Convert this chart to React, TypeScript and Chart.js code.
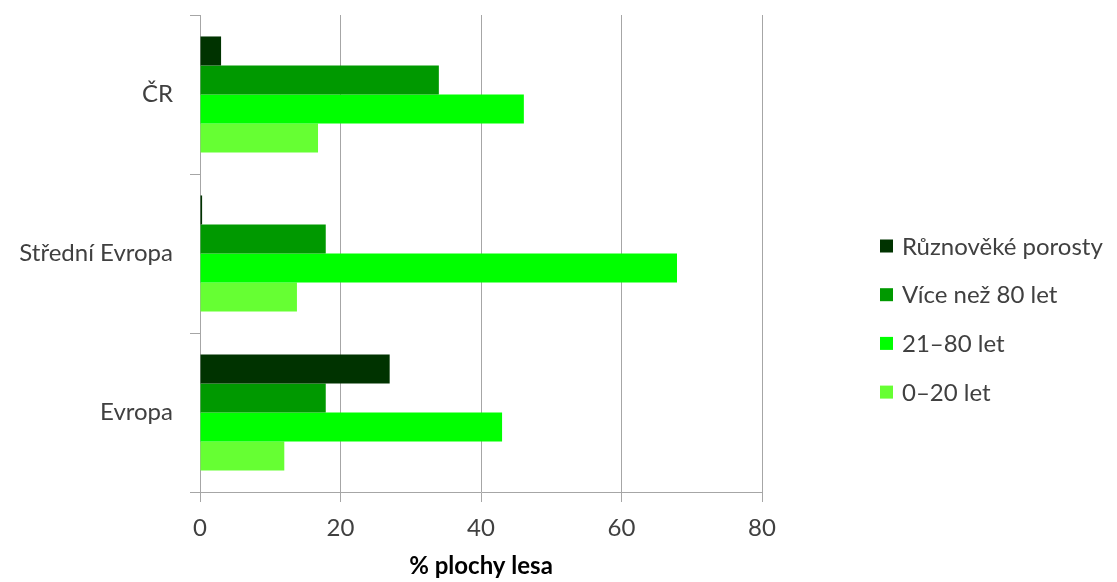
import React, { useEffect, useRef } from "react";
import { Chart, registerables } from "chart.js";

Chart.register(...registerables);

const categories = ["ČR", "Střední Evropa", "Evropa"];
const seriesLabels = ["Různověké porosty", "Více než 80 let", "21–80 let", "0–20 let"];
const seriesColors = ["#003300", "#009900", "#00FF00", "#66FF33"];
const ruznovekeValues = [3, 0.3, 27];
const vice80Values = [34, 17.9, 17.9];
const let21to80Values = [46.1, 67.9, 43];
const let0to20Values = [16.8, 13.8, 12];
const xTickValues = [0, 20, 40, 60, 80];
const xAxisTitle = "% plochy lesa";

const FONT = "Lato, 'Open Sans', sans-serif";
const TEXT = "#404040";
const GRID = "#a6a6a6";

const legendPlugin = {
  id: "customLegend",
  afterDraw(chart: any) {
    const ctx = chart.ctx;
    ctx.save();
    ctx.font = `24px ${FONT}`;
    ctx.textBaseline = "middle";
    ctx.textAlign = "left";
    chart.data.datasets.forEach((ds: any, i: number) => {
      const y = 246 + i * 48.7;
      ctx.fillStyle = ds.backgroundColor;
      ctx.fillRect(880, y - 6.5, 13, 13);
      ctx.fillStyle = TEXT;
      ctx.fillText(ds.label, 902, y + 1);
    });
    ctx.restore();
  },
};

export default function App() {
  const ref = useRef<HTMLCanvasElement | null>(null);
  useEffect(() => {
    document.body.style.margin = "0";
    const valuesList = [ruznovekeValues, vice80Values, let21to80Values, let0to20Values];
    const chart = new Chart(ref.current as HTMLCanvasElement, {
      type: "bar",
      data: {
        labels: categories,
        datasets: seriesLabels.map((label, i) => ({
          label,
          data: valuesList[i],
          backgroundColor: seriesColors[i],
          borderWidth: 0,
          categoryPercentage: 0.73,
          barPercentage: 1,
        })),
      },
      options: {
        indexAxis: "y",
        animation: false,
        responsive: false,
        layout: { padding: { top: 15, right: 355, left: 0, bottom: 0 } },
        plugins: { legend: { display: false }, tooltip: { enabled: false } },
        scales: {
          x: {
            min: 0,
            max: 80,
            afterBuildTicks: (scale: any) => {
              scale.ticks = xTickValues.map((v) => ({ value: v }));
            },
            afterFit: (scale: any) => {
              scale.height = 90;
            },
            grid: { color: GRID, lineWidth: 1, tickLength: 10, drawTicks: true },
            border: { display: true, color: GRID },
            ticks: { color: TEXT, font: { family: FONT, size: 24 }, padding: 12 },
            title: {
              display: true,
              text: xAxisTitle,
              color: "#000",
              font: { family: FONT, size: 24, weight: "bold" },
              padding: { top: 0, bottom: 1 },
            },
          },
          y: {
            afterFit: (scale: any) => {
              scale.width = 200;
              scale.paddingTop = 0;
              scale.paddingBottom = 0;
            },
            grid: { drawOnChartArea: false, drawTicks: true, tickLength: 10, color: GRID, offset: true },
            border: { display: true, color: GRID },
            ticks: { color: TEXT, font: { family: FONT, size: 24 }, padding: 17 },
          },
        },
      },
      plugins: [legendPlugin],
    } as any);
    return () => chart.destroy();
  }, []);
  return (
    <div style={{ width: 1117, height: 582 }}>
      <canvas ref={ref} width={1117} height={582} />
    </div>
  );
}
